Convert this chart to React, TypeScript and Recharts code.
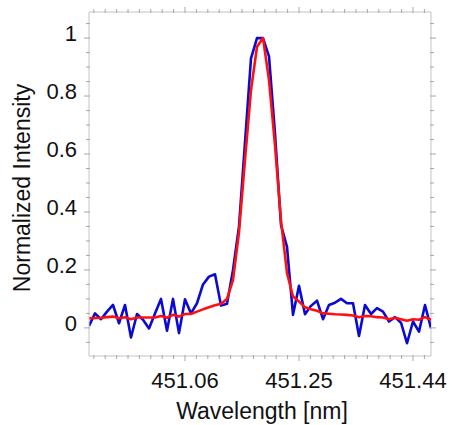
import { LineChart, Line, XAxis, YAxis, ReferenceLine } from "recharts";

const wavelength = [
  450.9, 450.91, 450.92, 450.93, 450.94, 450.95, 450.96, 450.97, 450.98, 450.99,
  451.0, 451.01, 451.02, 451.03, 451.04, 451.05, 451.06, 451.07, 451.08, 451.09,
  451.1, 451.11, 451.12, 451.13, 451.14, 451.15, 451.16, 451.17, 451.18, 451.19,
  451.2, 451.21, 451.22, 451.23, 451.24, 451.25, 451.26, 451.27, 451.28, 451.29,
  451.3, 451.31, 451.32, 451.33, 451.34, 451.35, 451.36, 451.37, 451.38, 451.39,
  451.4, 451.41, 451.42, 451.43, 451.44, 451.45, 451.46, 451.47,
];

const measured = [
  0.007, 0.05, 0.03, 0.056, 0.079, 0.016, 0.079, -0.033, 0.048, 0.028,
  -0.002, 0.05, 0.1, -0.01, 0.1, -0.018, 0.099, 0.05, 0.085, 0.15,
  0.177, 0.185, 0.077, 0.083, 0.2, 0.35, 0.64, 0.93, 1.0, 1.0,
  0.937, 0.67, 0.355, 0.28, 0.045, 0.145, 0.047, 0.076, 0.094, 0.03,
  0.079, 0.087, 0.1, 0.085, 0.085, -0.028, 0.079, 0.048, 0.068, 0.056,
  0.022, 0.037, 0.018, -0.053, 0.022, -0.013, 0.079, -0.001,
];

const fit = [
  0.033, 0.034, 0.035, 0.037, 0.039, 0.033, 0.037, 0.03, 0.036, 0.036,
  0.036, 0.036, 0.041, 0.035, 0.045, 0.039, 0.048, 0.048, 0.056, 0.064,
  0.071, 0.078, 0.083, 0.1, 0.165, 0.33, 0.58, 0.82, 0.97, 1.0,
  0.856, 0.63, 0.37, 0.19, 0.108, 0.091, 0.071, 0.064, 0.059, 0.05,
  0.049, 0.047, 0.046, 0.045, 0.043, 0.037, 0.041, 0.04, 0.037, 0.036,
  0.03, 0.035, 0.03, 0.025, 0.03, 0.028, 0.037, 0.028,
];

const xMajor = [451.06, 451.25, 451.44];
const yMajor = [0, 0.2, 0.4, 0.6, 0.8, 1];

const X_DOMAIN: [number, number] = [450.9, 451.47];
const Y_DOMAIN: [number, number] = [-0.097, 1.09];

const data = wavelength.map((wl, i) => ({ wl, measured: measured[i], fit: fit[i] }));

// minor ticks: 10 per major step on x, 4 per major step on y
const xTicks: number[] = [];
for (let i = -8; i <= 21; i++) xTicks.push(+(451.06 + i * 0.019).toFixed(4));
const yTicks: number[] = [];
for (let i = -1; i <= 21; i++) yTicks.push(+(i * 0.05).toFixed(3));

const PLOT_W = 342;
const PLOT_H = 344;
const FRAME = "#c4c4c4";
const TICK = "#a8a8a8";
const FONT = "'Liberation Sans', Arial, Helvetica, sans-serif";

const isMajor = (v: number, majors: number[]) => majors.some((m) => Math.abs(m - v) < 1e-6);

const XTick = ({ x, y, payload }: any) => {
  const major = isMajor(payload.value, xMajor);
  const len = major ? 5 : 3;
  return (
    <g>
      <line x1={x} x2={x} y1={y - 1} y2={y + len} stroke={TICK} />
      <line x1={x} x2={x} y1={y - PLOT_H + 1} y2={y - PLOT_H - len} stroke={TICK} />
      {major && (
        <text x={x} y={y + 32} textAnchor="middle" fontSize={22} fontFamily={FONT} fill="#111">
          {payload.value.toFixed(2)}
        </text>
      )}
    </g>
  );
};

const YTick = ({ x, y, payload }: any) => {
  const major = isMajor(payload.value, yMajor);
  const len = major ? 5 : 3;
  const v = payload.value;
  const label = v === 0 ? "0" : v === 1 ? "1" : v.toFixed(1);
  return (
    <g>
      <line x1={x + 1} x2={x - len} y1={y} y2={y} stroke={TICK} />
      <line x1={x + PLOT_W - 1} x2={x + PLOT_W + len} y1={y} y2={y} stroke={TICK} />
      {major && (
        <text x={x - 12} y={y + 3} textAnchor="end" fontSize={22} fontFamily={FONT} fill="#111">
          {label}
        </text>
      )}
    </g>
  );
};

const XLabel = ({ viewBox }: any) => (
  <text
    x={viewBox.x + viewBox.width / 2 + 2}
    y={viewBox.y + 63}
    textAnchor="middle"
    fontSize={23}
    fontFamily={FONT}
    fill="#111"
  >
    Wavelength [nm]
  </text>
);

const YLabel = ({ viewBox }: any) => {
  const cy = viewBox.y + viewBox.height / 2 + 4;
  return (
    <text
      x={30}
      y={cy}
      transform={`rotate(-90, 30, ${cy})`}
      textAnchor="middle"
      fontSize={23}
      fontFamily={FONT}
      fill="#111"
    >
      Normalized Intensity
    </text>
  );
};

export default function App() {
  return (
    <div style={{ position: "absolute", left: 0, top: 0, width: 453, height: 425, background: "#fff" }}>
      <LineChart width={453} height={425} data={data} margin={{ top: 12, right: 22, bottom: 0, left: 0 }}>
        <XAxis
          dataKey="wl"
          type="number"
          domain={X_DOMAIN}
          allowDataOverflow
          ticks={xTicks}
          interval={0}
          tick={<XTick />}
          tickLine={false}
          tickSize={0}
          tickMargin={0}
          height={69}
          axisLine={{ stroke: FRAME }}
          label={<XLabel />}
        />
        <YAxis
          type="number"
          domain={Y_DOMAIN}
          allowDataOverflow
          ticks={yTicks}
          interval={0}
          tick={<YTick />}
          tickLine={false}
          tickSize={0}
          tickMargin={0}
          width={89}
          axisLine={{ stroke: FRAME }}
          label={<YLabel />}
        />
        <ReferenceLine y={Y_DOMAIN[1]} stroke={FRAME} />
        <ReferenceLine x={X_DOMAIN[1]} stroke={FRAME} />
        <Line
          dataKey="measured"
          type="linear"
          stroke="#0a0ad2"
          strokeWidth={2.6}
          dot={false}
          strokeLinejoin="round"
          isAnimationActive={false}
        />
        <Line
          dataKey="fit"
          type="linear"
          stroke="#ff1010"
          strokeWidth={2.6}
          dot={false}
          strokeLinejoin="round"
          isAnimationActive={false}
        />
      </LineChart>
    </div>
  );
}
